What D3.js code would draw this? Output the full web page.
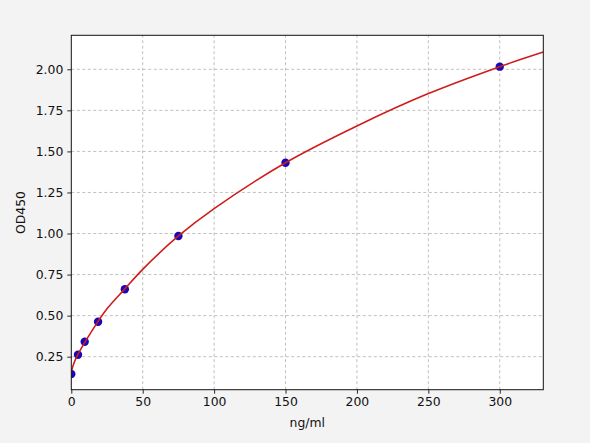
<!DOCTYPE html>
<html>
<head>
<meta charset="utf-8">
<script src="https://cdn.jsdelivr.net/npm/d3@7"></script>
<style>
  body { margin: 0; background: #f3f3f3; }
  svg { display: block; font-family: "DejaVu Sans", sans-serif; }
</style>
</head>
<body>
<div id="chart"></div>
<script>
// standard points
const concentrations = [0, 4.69, 9.375, 18.75, 37.5, 75, 150, 300];
const odValues = [0.145, 0.262, 0.341, 0.463, 0.661, 0.985, 1.431, 2.016];

// fitted curve
const curveX = [0, 2, 5, 10, 18.75, 25, 37.5, 50, 75, 100, 150, 200, 250, 300, 330.5];
const curveY = [0.158, 0.215, 0.27, 0.345, 0.465, 0.542, 0.663, 0.782, 0.985, 1.152, 1.431, 1.655, 1.852, 2.016, 2.105];

const xTicks = [0, 50, 100, 150, 200, 250, 300];
const yTicks = [0.25, 0.5, 0.75, 1.0, 1.25, 1.5, 1.75, 2.0];

const width = 590, height = 443;
const margin = { left: 71.3, right: 590 - 543.3, top: 35.3, bottom: 443 - 389.7 };

const svg = d3.select('#chart').append('svg')
  .attr('width', width)
  .attr('height', height);

svg.append('rect').attr('width', width).attr('height', height).attr('fill', '#f3f3f3');

const x = d3.scaleLinear().domain([0, 330.5]).range([margin.left, width - margin.right]);
const y = d3.scaleLinear().domain([0.049, 2.207]).range([height - margin.bottom, margin.top]);

svg.append('rect')
  .attr('x', margin.left).attr('y', margin.top)
  .attr('width', x.range()[1] - x.range()[0])
  .attr('height', y.range()[0] - y.range()[1])
  .attr('fill', '#fff');

// grid
const grid = svg.append('g').attr('stroke', '#b0b0b0').attr('stroke-width', 0.8).attr('stroke-dasharray', '3,2.5');
grid.selectAll('.vx').data(xTicks.slice(1)).enter().append('line')
  .attr('x1', d => x(d)).attr('x2', d => x(d))
  .attr('y1', y.range()[0]).attr('y2', y.range()[1]);
grid.selectAll('.hy').data(yTicks).enter().append('line')
  .attr('y1', d => y(d)).attr('y2', d => y(d))
  .attr('x1', x.range()[0]).attr('x2', x.range()[1]);

// points, then fitted line on top
const clip = svg.append('clipPath').attr('id', 'clip').append('rect')
  .attr('x', margin.left).attr('y', margin.top)
  .attr('width', x.range()[1] - x.range()[0])
  .attr('height', y.range()[0] - y.range()[1]);

svg.append('g').attr('clip-path', 'url(#clip)')
  .selectAll('circle').data(concentrations).enter().append('circle')
  .attr('cx', d => x(d))
  .attr('cy', (d, i) => y(odValues[i]))
  .attr('r', 4.2)
  .attr('fill', '#1608b8');

const line = d3.line()
  .x(d => x(d))
  .y((d, i) => y(curveY[i]))
  .curve(d3.curveCatmullRom);

svg.append('path')
  .datum(curveX)
  .attr('clip-path', 'url(#clip)')
  .attr('d', line)
  .attr('fill', 'none')
  .attr('stroke', '#d01c1c')
  .attr('stroke-width', 1.6);

// axes
const xAxis = d3.axisBottom(x).tickValues(xTicks).tickFormat(d3.format('d')).tickSize(4).tickPadding(4);
const yAxis = d3.axisLeft(y).tickValues(yTicks).tickFormat(d3.format('.2f')).tickSize(4).tickPadding(4);

const gx = svg.append('g').attr('transform', `translate(0,${y.range()[0]})`).call(xAxis);
const gy = svg.append('g').attr('transform', `translate(${x.range()[0]},0)`).call(yAxis);
[gx, gy].forEach(g => {
  g.select('.domain').remove();
  g.selectAll('text').attr('font-size', 12.4).attr('font-family', '"DejaVu Sans", sans-serif').attr('fill', '#111');
  g.selectAll('line').attr('stroke', '#111').attr('stroke-width', 0.9);
});

// spines
svg.append('rect')
  .attr('x', margin.left).attr('y', margin.top)
  .attr('width', x.range()[1] - x.range()[0])
  .attr('height', y.range()[0] - y.range()[1])
  .attr('fill', 'none').attr('stroke', '#111').attr('stroke-width', 1);

svg.append('text')
  .attr('x', (x.range()[0] + x.range()[1]) / 2).attr('y', 427)
  .attr('text-anchor', 'middle').attr('font-size', 12.4).attr('fill', '#111')
  .text('ng/ml');

svg.append('text')
  .attr('transform', `translate(25,${(y.range()[0] + y.range()[1]) / 2}) rotate(-90)`)
  .attr('text-anchor', 'middle').attr('font-size', 12.4).attr('fill', '#111')
  .text('OD450');
</script>
</body>
</html>
